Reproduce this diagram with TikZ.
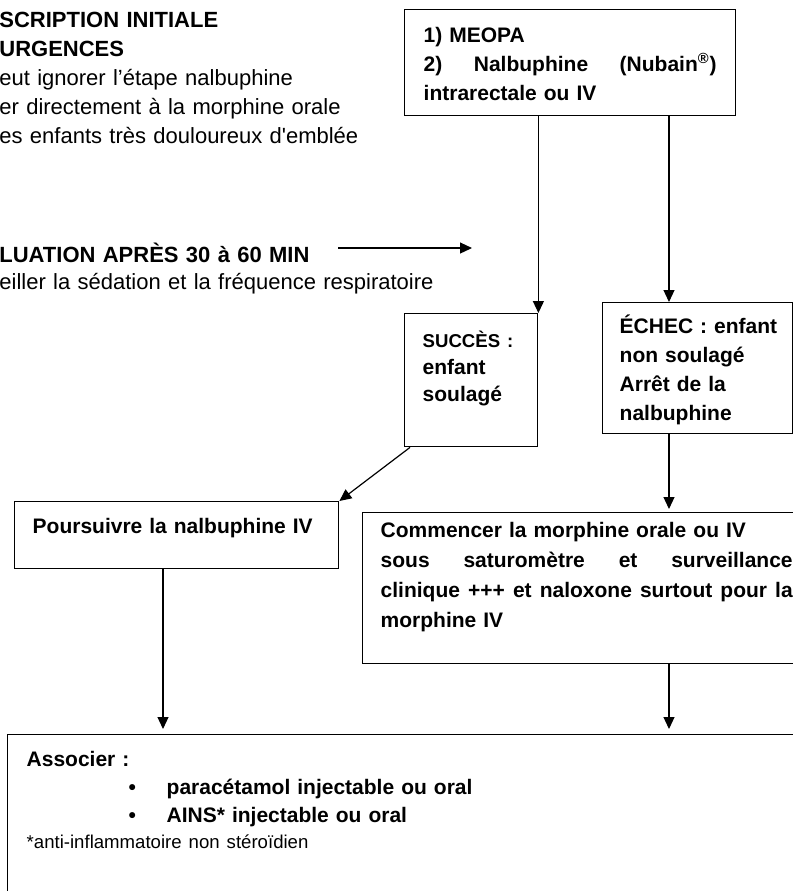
\documentclass[tikz,border=0pt]{standalone}
\usepackage{fontspec}
\setmainfont{Liberation Sans}
\usetikzlibrary{arrows.meta}
\hyphenpenalty=10000
\exhyphenpenalty=10000

\begin{document}
\begin{tikzpicture}[x=0.5pt,y=-0.5pt,
    box/.style={draw,line width=0.7pt,anchor=north west,align=left,inner ysep=0pt,
      font=\fontsize{10.5}{14.5}\selectfont\bfseries},
    note/.style={anchor=base west,align=left,inner sep=0pt,text width=230pt,
      font=\fontsize{11}{14.5}\selectfont},
    arr/.style={line width=0.6pt,-{Triangle[length=6pt,width=5.5pt]}}]
  \path[use as bounding box,fill=white] (0,0) rectangle (793,891);
  \coordinate (lcol) at (163,0);
  \coordinate (rcol) at (669,0);

  \node[note] (presc) at (-1,27) {\textbf{SCRIPTION INITIALE}\\
    \textbf{URGENCES}\\
    eut ignorer l’étape nalbuphine\\
    er directement à la morphine orale\\
    es enfants très douloureux d\textquotesingle emblée};
  \node[note,font=\fontsize{11}{13.5}\selectfont] (eval) at (-1,262) {\textbf{LUATION APRÈS 30 à 60 MIN}\\
    eiller la sédation et la fréquence respiratoire};
  \coordinate (evalA) at (338,248);
  \coordinate (evalB) at (472,248);

  \node[box,text width=146.5pt,inner xsep=9.5pt,text height=16.5pt,text depth=36.5pt] (T) at (404,9)
    {1) MEOPA\\
     2)\hfill Nalbuphine\hfill (Nubain\textsuperscript{®})\\
     intrarectale ou IV};
  \node[box,text width=48.5pt,inner xsep=9pt,text height=17pt,text depth=49.5pt,
    font=\fontsize{10.5}{13.5}\selectfont\bfseries] (S) at (404,313)
    {{\fontsize{9.3}{13.5}\selectfont SUCCÈS :}\\
     enfant\\
     soulagé};
  \node[box,text width=78pt,inner xsep=8.5pt,text height=15.5pt,text depth=50pt] (E) at (602,302)
    {ÉCHEC~:~enfant\\
     non soulagé\\
     Arrêt de la\\
     nalbuphine};
  \node[box,text width=144pt,inner xsep=9pt,text height=16pt,text depth=17.5pt] (P) at (14,501)
    {Poursuivre la nalbuphine IV};
  \node[box,text width=206pt,inner xsep=9pt,text height=12.5pt,text depth=63pt,
    font=\fontsize{10.5}{15}\selectfont\bfseries] (C) at (362,512)
    {Commencer la morphine orale ou IV\\
     sous\hfill saturomètre\hfill et\hfill surveillance\\
     clinique\hfill +++\hfill et\hfill naloxone\hfill surtout\hfill pour\hfill la\\
     morphine IV};
  \node[box,text width=382.5pt,inner xsep=9.5pt,text height=16pt,text depth=72pt,
    font=\fontsize{10.5}{14}\selectfont\bfseries] (A) at (7,734)
    {Associer :\\
     \hspace*{51pt}\makebox[19pt][l]{•}paracétamol injectable ou oral\\
     \hspace*{51pt}\makebox[19pt][l]{•}AINS* injectable ou oral\\[-1pt]
     {\fontsize{9.3}{13}\selectfont\mdseries *anti-inflammatoire non stéroïdien}};

  \draw[arr] (evalA) -- (evalB);
  \draw[arr] (T.south -| S.north east) -- (S.north east);
  \draw[arr] (T.south -| rcol) -- (E.north -| rcol);
  \draw[arr,shorten >=1.5pt] (E.south -| rcol) -- (C.north -| rcol);
  \draw[arr] ([xshift=3pt]S.south west) -- (P.north east);
  \draw[arr,shorten >=2.5pt] (P.south -| lcol) -- (A.north -| lcol);
  \draw[arr,shorten >=2.5pt] (C.south -| rcol) -- (A.north -| rcol);
\end{tikzpicture}
\end{document}
